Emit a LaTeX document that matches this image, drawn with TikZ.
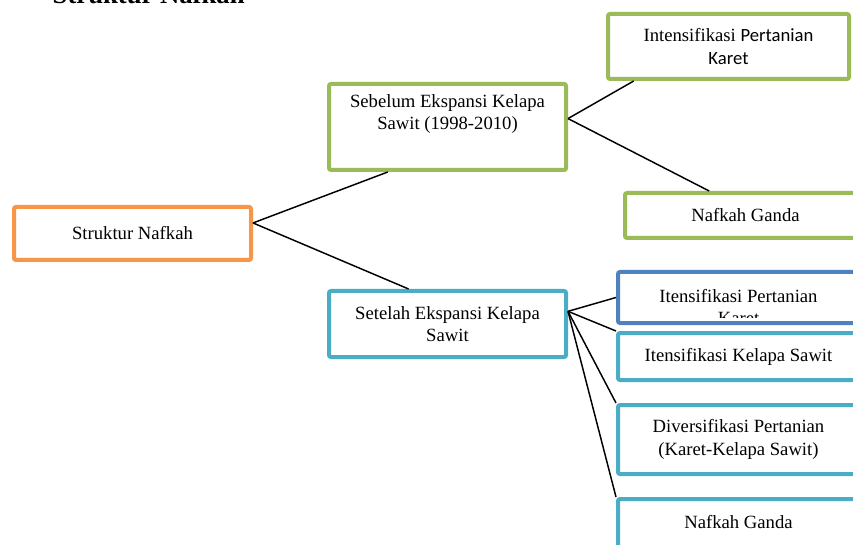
\documentclass[tikz,border=0pt]{standalone}
\usepackage{fontspec}
\setmainfont{Liberation Serif}
\newfontfamily\calibri{Carlito}
\usetikzlibrary{positioning}

\definecolor{orangeline}{HTML}{F79646}
\definecolor{greenline}{HTML}{9BBB59}
\definecolor{aqualine}{HTML}{4BACC6}
\definecolor{blueline}{HTML}{4F81BD}

\begin{document}
\begin{tikzpicture}[x=0.75pt, y=-0.75pt, font=\fontsize{14}{17}\selectfont, box/.style={rectangle, draw, line width=3pt, rounded corners=1.5pt, fill=white, align=center, inner sep=0pt}, leftbox/.style={box, minimum width=177.75pt}, rightbox/.style={box, minimum width=180.75pt}, link/.style={line width=1.1pt}]
\useasboundingbox (0,0) rectangle (853,545);
\clip (0,0) rectangle (853,545);
\node[font=\fontsize{20}{24}\selectfont\bfseries, anchor=base west] (title) at (48,4) {Struktur Nafkah};
% level 1 and 2
\node[leftbox, draw=orangeline, minimum height=39.75pt] (root) at (132.5,233.5) {Struktur Nafkah};
\node[leftbox, draw=greenline, minimum height=64.5pt] (sebelum) at (447.5,127) {};
\node[align=center] (sebelumtext) at (447.5,114) {Sebelum Ekspansi Kelapa\\Sawit (1998-2010)};
\node[leftbox, draw=aqualine, minimum height=49.5pt] (setelah) at (447.5,324) {Setelah Ekspansi Kelapa\\Sawit};
% before expansion
\node[rightbox, draw=greenline, minimum height=48.75pt] (karet) at (728.5,46.5) {Intensifikasi {\calibri Pertanian}\\{\calibri Karet}};
\node[rightbox, draw=greenline, minimum height=33.75pt] (gandaA) at (745.5,215.5) {Nafkah Ganda};
% after expansion
\node[rightbox, draw=blueline, minimum height=38.25pt] (itkaret) at (738.5,297.5) {};
\begin{scope}
\clip (620,274) rectangle (857,317);
\node[align=center] (itkarettext) at (738.5,307) {Itensifikasi Pertanian\\Karet};
\end{scope}
\node[rightbox, draw=aqualine, minimum height=35.25pt] (itsawit) at (738.5,356.5) {Itensifikasi Kelapa Sawit};
\node[rightbox, draw=aqualine, minimum height=51.75pt] (divers) at (738.5,439.5) {Diversifikasi Pertanian\\(Karet-Kelapa Sawit)};
\node[rightbox, draw=aqualine, minimum height=59.25pt] (gandaB) at (738.5,538.5) {};
\node (gandaBtext) at (738.5,522) {Nafkah Ganda};
% connectors
\draw[link] (root.5.5) -- (sebelum.217.6);
\draw[link] (root.5.5) -- (setelah.138.5);
\draw[link] (sebelum.4.3) -- (karet.200.4);
\draw[link] (sebelum.4.3) -- (gandaA.146.8);
\draw[link] (setelah.6.6) -- (itkaret.west);
\draw[link] (setelah.6.6) -- (itsawit.north west);
\draw[link] (setelah.6.6) -- (divers.north west);
\draw[link] (setelah.6.6) -- (gandaB.north west);
\end{tikzpicture}
\end{document}
